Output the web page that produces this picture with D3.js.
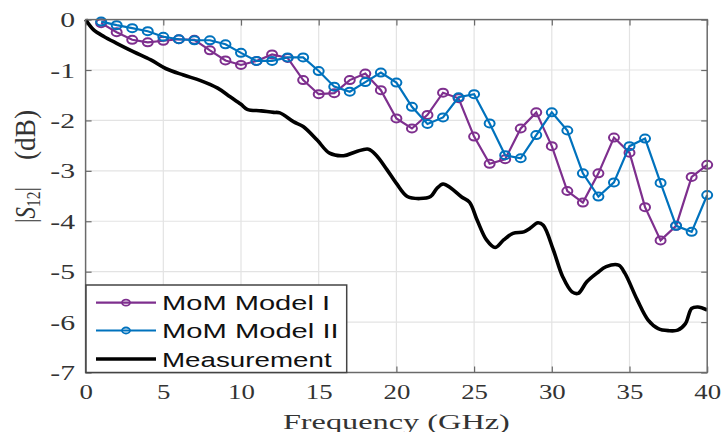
<!DOCTYPE html>
<html><head><meta charset="utf-8">
<script src="https://cdn.jsdelivr.net/npm/d3@7/dist/d3.min.js"></script>
<style>body{margin:0;background:#fff}</style>
</head><body>
<svg id="c" width="721" height="432"></svg>
<script>
const modelFreq = [1,2,3,4,5,6,7,8,9,10,11,12,13,14,15,16,17,18,19,20,21,22,23,24,25,26,27,28,29,30,31,32,33,34,35,36,37,38,39,40];
const modelI = [-0.07,-0.25,-0.40,-0.45,-0.42,-0.39,-0.40,-0.61,-0.81,-0.90,-0.82,-0.69,-0.76,-1.20,-1.48,-1.46,-1.20,-1.07,-1.40,-1.96,-2.16,-1.89,-1.45,-1.56,-2.32,-2.86,-2.77,-2.16,-1.84,-2.51,-3.40,-3.63,-3.05,-2.34,-2.64,-3.72,-4.38,-4.09,-3.12,-2.88];
const modelII = [-0.04,-0.11,-0.17,-0.23,-0.34,-0.39,-0.41,-0.41,-0.49,-0.66,-0.82,-0.82,-0.75,-0.75,-1.02,-1.33,-1.43,-1.24,-1.05,-1.25,-1.73,-2.07,-1.94,-1.54,-1.48,-2.06,-2.69,-2.75,-2.29,-1.84,-2.20,-3.05,-3.51,-3.23,-2.51,-2.36,-3.24,-4.09,-4.21,-3.48];
const measFreq = [0,0.5,1.2,2.0,3.1,4.2,5.15,6.3,7.4,8.5,9.3,10.0,10.4,11.3,12.1,12.5,13.4,14.0,14.9,15.7,16.6,17.4,18.2,18.7,19.4,20.0,20.7,21.5,22.2,22.6,23.0,23.5,24.2,24.7,25.2,25.8,26.35,26.9,27.5,28.2,28.6,29.1,29.45,30.1,30.7,31.3,31.7,32.25,32.9,33.5,34.3,34.7,35.5,36.2,36.85,37.5,38.1,38.6,39.0,39.4,40.0];
const measDb = [0,-0.20,-0.34,-0.47,-0.64,-0.80,-0.97,-1.10,-1.21,-1.36,-1.53,-1.68,-1.78,-1.81,-1.84,-1.85,-2.03,-2.12,-2.39,-2.65,-2.70,-2.62,-2.57,-2.69,-2.98,-3.25,-3.51,-3.55,-3.51,-3.35,-3.26,-3.34,-3.52,-3.62,-3.98,-4.37,-4.52,-4.37,-4.24,-4.21,-4.14,-4.03,-4.08,-4.57,-5.10,-5.40,-5.43,-5.20,-5.03,-4.90,-4.87,-5.03,-5.56,-5.96,-6.13,-6.17,-6.16,-6.03,-5.73,-5.70,-5.76];
const xTicks = [0,5,10,15,20,25,30,35,40];
const yTicks = [0,-1,-2,-3,-4,-5,-6,-7];
const legendLabels = ["MoM Model I","MoM Model II","Measurement"];
const seriesColors = ["#7E2F8E","#0072BD","#000000"];

const svg = d3.select("#c");
const L = 85.6, R = 707.2, T = 19.6, B = 372.5;
const x = d3.scaleLinear().domain([0,40]).range([L,R]);
const y = d3.scaleLinear().domain([-7,0]).range([B,T]);
const SX = 1.22;
const fmt = d => String(d);

// grid
const grid = svg.append("g");
grid.selectAll("line.gx").data(xTicks.slice(1,-1)).join("line")
  .attr("x1",d=>x(d)).attr("x2",d=>x(d)).attr("y1",T).attr("y2",B)
  .attr("stroke","#e3e3e3").attr("stroke-width",1.2);
grid.selectAll("line.gy").data(yTicks.slice(1,-1)).join("line")
  .attr("y1",d=>y(d)).attr("y2",d=>y(d)).attr("x1",L).attr("x2",R)
  .attr("stroke","#e3e3e3").attr("stroke-width",1.2);

// axes (inward ticks on all four sides)
const axCol = "#6a6a6a";
function styleAxis(g){ g.select(".domain").remove(); g.selectAll(".tick line").attr("stroke",axCol).attr("stroke-width",1.2); }
const gB = svg.append("g").attr("transform",`translate(0,${B})`)
  .call(d3.axisBottom(x).tickValues(xTicks).tickFormat(fmt).tickSizeInner(-6).tickSizeOuter(0));
styleAxis(gB);
gB.selectAll(".tick text").attr("font-family","Liberation Serif").attr("font-size",22).attr("fill","#333")
  .attr("dy",null).attr("y",26.5).attr("transform",`scale(${SX},1)`);
const gT = svg.append("g").attr("transform",`translate(0,${T})`)
  .call(d3.axisTop(x).tickValues(xTicks).tickSizeInner(-6).tickSizeOuter(0).tickFormat(""));
styleAxis(gT);
const gL = svg.append("g").attr("transform",`translate(${L},0)`)
  .call(d3.axisLeft(y).tickValues(yTicks).tickFormat(fmt).tickSizeInner(-6).tickSizeOuter(0));
styleAxis(gL);
gL.selectAll(".tick text").attr("font-family","Liberation Serif").attr("font-size",22).attr("fill","#333")
  .attr("dy",null).attr("y",7).attr("x",-10.6/1.35).attr("text-anchor","end").attr("transform",`scale(1.35,1)`);
const gR = svg.append("g").attr("transform",`translate(${R},0)`)
  .call(d3.axisRight(y).tickValues(yTicks).tickSizeInner(-6).tickSizeOuter(0).tickFormat(""));
styleAxis(gR);

// data lines
const lineGen = d3.line().x(d=>x(d[0])).y(d=>y(d[1]));
const modelSeries = [modelI, modelII];
modelSeries.forEach((vals,i)=>{
  const pts = modelFreq.map((f,j)=>[f,vals[j]]);
  const g = svg.append("g");
  g.append("path").attr("d",lineGen(pts)).attr("fill","none").attr("stroke",seriesColors[i]).attr("stroke-width",2.2);
  g.selectAll("ellipse").data(pts).join("ellipse")
    .attr("cx",d=>x(d[0])).attr("cy",d=>y(d[1])).attr("rx",5).attr("ry",4)
    .attr("fill","none").attr("stroke",seriesColors[i]).attr("stroke-width",2);
});
const measPts = measFreq.map((f,j)=>[f,measDb[j]]);
svg.append("path").attr("d",d3.line().x(d=>x(d[0])).y(d=>y(d[1])).curve(d3.curveCatmullRom)(measPts))
  .attr("fill","none").attr("stroke","#000").attr("stroke-width",3.6).attr("stroke-linejoin","round");

// frame
svg.append("rect").attr("x",L).attr("y",T).attr("width",R-L).attr("height",B-T)
  .attr("fill","none").attr("stroke",axCol).attr("stroke-width",1.5);

// legend
const lg = svg.append("g");
lg.append("rect").attr("x",86).attr("y",285).attr("width",260.7).attr("height",87.5)
  .attr("fill","#fff").attr("stroke","#444").attr("stroke-width",1.5);
const rowY = [302.7,330.5,359];
const textLen = [168,176.6,169.6];
legendLabels.forEach((lab,i)=>{
  lg.append("line").attr("x1",96).attr("x2",156).attr("y1",rowY[i]).attr("y2",rowY[i])
    .attr("stroke",seriesColors[i]).attr("stroke-width",i===2?3.6:2.2);
  if(i<2) lg.append("ellipse").attr("cx",126).attr("cy",rowY[i]).attr("rx",4).attr("ry",3)
    .attr("fill","none").attr("stroke",seriesColors[i]).attr("stroke-width",1.8);
  lg.append("text").attr("x",162).attr("y",rowY[i]+7.5).text(lab)
    .attr("font-family","Liberation Sans").attr("font-size",20.5).attr("fill","#111")
    .attr("textLength",textLen[i]).attr("lengthAdjust","spacingAndGlyphs");
});

// axis titles
svg.append("text").attr("x",(L+R)/2).attr("y",429).attr("text-anchor","middle")
  .attr("font-family","Liberation Serif").attr("font-size",20).attr("fill","#333")
  .attr("textLength",227).attr("lengthAdjust","spacingAndGlyphs").text("Frequency (GHz)");
const yt = svg.append("g").attr("transform","translate(35,0) rotate(-90) scale(1,1.3)");
const t1 = yt.append("text").attr("x",-223).attr("y",0)
  .attr("font-family","Liberation Serif").attr("font-size",22).attr("fill","#333")
  .attr("textLength",36).attr("lengthAdjust","spacingAndGlyphs");
t1.append("tspan").text("|");
t1.append("tspan").attr("font-style","italic").text("S");
t1.append("tspan").attr("font-size",15).attr("dy",4).text("12");
t1.append("tspan").attr("dy",-4).text("|");
yt.append("text").attr("x",-160).attr("y",0)
  .attr("font-family","Liberation Serif").attr("font-size",22).attr("fill","#333")
  .attr("textLength",50).attr("lengthAdjust","spacingAndGlyphs").text("(dB)");
</script>
</body></html>
